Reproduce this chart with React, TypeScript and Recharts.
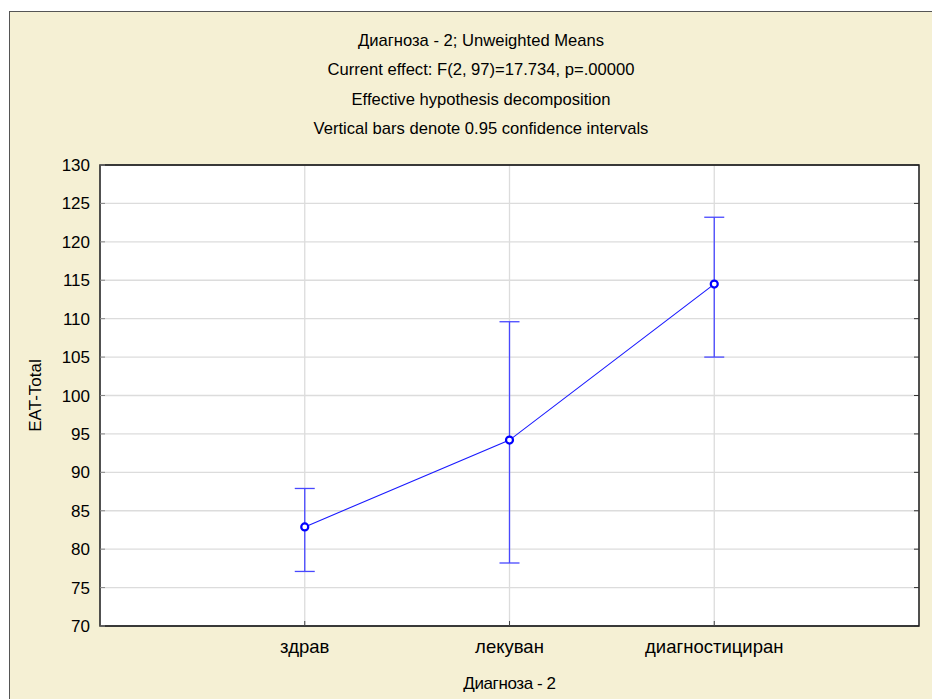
import React from 'react';
import { LineChart, Line, XAxis, YAxis, CartesianGrid, ErrorBar, ReferenceArea } from 'recharts';

const categories = ['здрав', 'лекуван', 'диагностициран'];
const means = [82.9, 94.2, 114.5];
const lower = [77.1, 78.2, 105.0];
const upper = [87.9, 109.6, 123.2];
const yTicks = [70, 75, 80, 85, 90, 95, 100, 105, 110, 115, 120, 125, 130];
const titleLines = [
  'Диагноза - 2; Unweighted Means',
  'Current effect: F(2, 97)=17.734, p=.00000',
  'Effective hypothesis decomposition',
  'Vertical bars denote 0.95 confidence intervals',
];
const xTitle = 'Диагноза - 2';
const yTitle = 'EAT-Total';

const data = categories.map((c, i) => ({
  x: i + 1,
  name: c,
  mean: means[i],
  err: [means[i] - lower[i], upper[i] - means[i]],
}));

const CREAM = '#F5F0D4';
const SANS = '"Liberation Sans", Arial, sans-serif';

export default function App() {
  return (
    <div style={{ position: 'absolute', left: 0, top: 0, width: 932, height: 699, background: '#fff', overflow: 'hidden' }}>
      <div style={{ position: 'absolute', left: 9, top: 11, width: 940, height: 700, background: CREAM, borderLeft: '1px solid #555', borderTop: '1px solid #555' }} />
      {titleLines.map((t, i) => (
        <div key={i} style={{ position: 'absolute', left: 12, width: 938, top: 30.5 + i * 29.5, textAlign: 'center', fontFamily: SANS, fontSize: 16.6, color: '#000', lineHeight: '20px', whiteSpace: 'nowrap' }}>{t}</div>
      ))}
      <LineChart
        width={932}
        height={699}
        data={data}
        margin={{ top: 165, right: 0, bottom: 7, left: 40 }}
        style={{ position: 'absolute', left: 0, top: 0 }}
      >
        <CartesianGrid stroke="#dcdcdc" strokeWidth={1.3} fill="#fff" />
        <XAxis
          dataKey="x"
          type="number"
          domain={[0, 4]}
          ticks={[1, 2, 3]}
          tickFormatter={(v: number) => categories[v - 1] ?? ''}
          height={66}
          axisLine={false}
          tickLine={{ stroke: '#444' }}
          tickSize={-5}
          tickMargin={19}
          tick={{ fill: '#000', fontFamily: SANS, fontSize: 18.5 }}
          label={{ value: xTitle, position: 'insideBottom', offset: 3, fill: '#000', fontFamily: SANS, fontSize: 17, letterSpacing: -0.4 }}
          allowDataOverflow
        />
        <YAxis
          type="number"
          domain={[70, 130]}
          ticks={yTicks}
          width={60}
          axisLine={false}
          tickLine={{ stroke: '#888' }}
          tickSize={-5}
          tickMargin={15}
          tick={{ fill: '#000', fontFamily: SANS, fontSize: 17 }}
          label={{ value: yTitle, angle: -90, position: 'insideLeft', offset: -5, fill: '#000', fontFamily: SANS, fontSize: 17, style: { textAnchor: 'middle' } }}
          allowDataOverflow
        />
        <YAxis
          yAxisId="r"
          orientation="right"
          type="number"
          domain={[70, 130]}
          ticks={yTicks}
          width={13}
          axisLine={false}
          tickLine={{ stroke: '#333' }}
          tickSize={-5}
          tickFormatter={() => ''}
          allowDataOverflow
        />
        <ReferenceArea x1={0} x2={4} y1={70} y2={130} stroke="#000" strokeWidth={1.3} fill="none" fillOpacity={0} ifOverflow="visible" />
        <Line
          dataKey="mean"
          stroke="#1a1aff"
          strokeWidth={1.1}
          isAnimationActive={false}
          dot={{ r: 3.5, stroke: '#0000ff', strokeWidth: 2.2, fill: '#fff' }}
          activeDot={false}
        >
          <ErrorBar dataKey="err" direction="y" width={10} stroke="#4848ff" strokeWidth={1.3} isAnimationActive={false} />
        </Line>
      </LineChart>
    </div>
  );
}
